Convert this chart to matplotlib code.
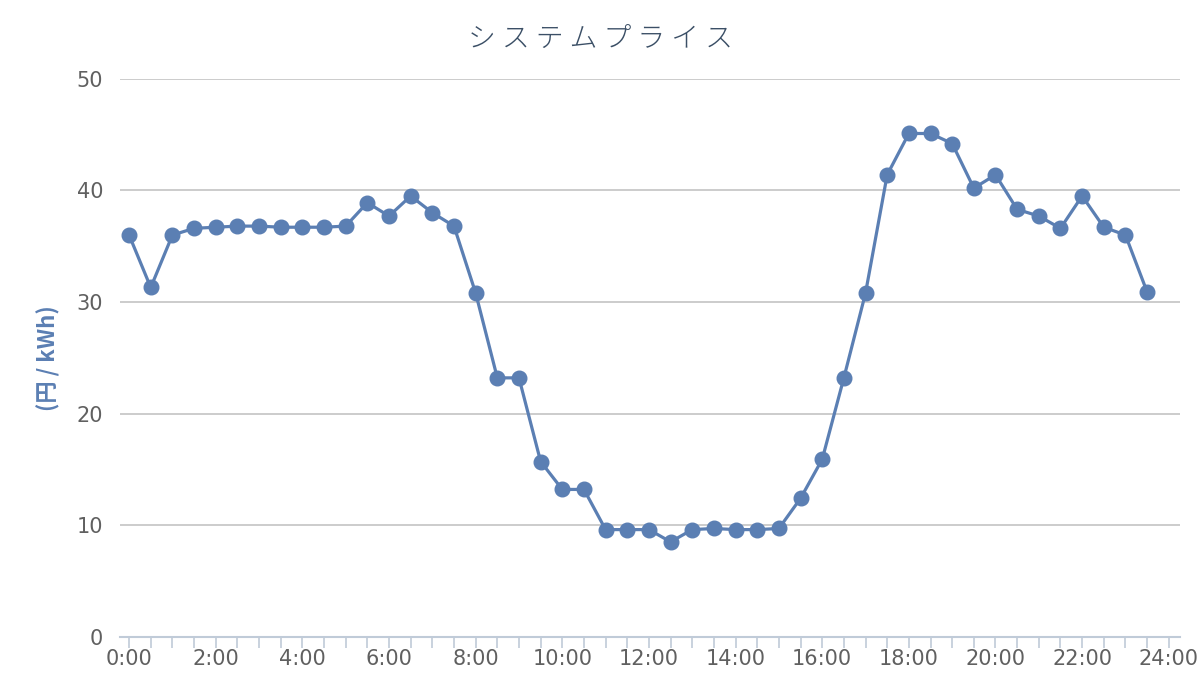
import matplotlib.pyplot as plt
from matplotlib.ticker import MultipleLocator, FuncFormatter

plt.rcParams['font.family'] = ['Noto Sans CJK JP', 'DejaVu Sans']

# 30分ごとのシステムプライス (円/kWh)
hours = [i * 0.5 for i in range(48)]
price = [36.0, 31.3, 36.0, 36.6, 36.7, 36.8, 36.8, 36.7, 36.7, 36.7,
         36.8, 38.9, 37.7, 39.5, 38.0, 36.8, 30.8, 23.2, 23.2, 15.7,
         13.2, 13.2, 9.6, 9.6, 9.6, 8.5, 9.6, 9.7, 9.6, 9.6,
         9.7, 12.4, 15.9, 23.2, 30.8, 41.4, 45.1, 45.1, 44.2, 40.2,
         41.4, 38.3, 37.7, 36.6, 39.5, 36.7, 36.0, 30.9]
y_ticks = [0, 10, 20, 30, 40, 50]

line_color = '#5b7fb3'

fig = plt.figure(figsize=(12, 7), dpi=100)
ax = fig.add_axes([0.1, 0.0904, 0.883, 0.797])

ax.plot(hours, price, color=line_color, lw=2.3, marker='o', ms=10.5, zorder=3)

ax.set_xlim(-0.21, 24.25)
ax.set_ylim(0, 50)
ax.set_yticks(y_ticks)
ax.yaxis.grid(True, color='#c4c4c4', lw=1.2)
ax.set_axisbelow(True)

ax.xaxis.set_major_locator(MultipleLocator(2))
ax.xaxis.set_minor_locator(MultipleLocator(0.5))
ax.xaxis.set_major_formatter(FuncFormatter(lambda v, p: "%d:00" % int(round(v))))

for s in ['top', 'right', 'left']:
    ax.spines[s].set_visible(False)
ax.spines['bottom'].set_color('#c0cbd8')
ax.spines['bottom'].set_linewidth(1.5)

ax.tick_params(axis='x', which='both', direction='out', length=8, width=1.2,
               color='#c0cbd8', labelsize=15, labelcolor='#606060', pad=1)
ax.tick_params(axis='y', length=0, labelsize=15, labelcolor='#606060', pad=12)
for lbl in ax.get_yticklabels():
    lbl.set_fontfamily(['DejaVu Sans'])
for lbl in ax.get_xticklabels():
    lbl.set_fontfamily(['DejaVu Sans'])

ax.set_ylabel("(円 / kWh)", fontsize=16, fontweight='bold', color=line_color)
ax.yaxis.set_label_coords(-0.056, 0.5)

fig.text(0.5, 0.945, "シ ス テ ム プ ラ イ ス", ha='center', va='center',
         fontsize=20, fontweight='light', color='#3b4f66')

fig.savefig("out.png", dpi=100, facecolor='white')
